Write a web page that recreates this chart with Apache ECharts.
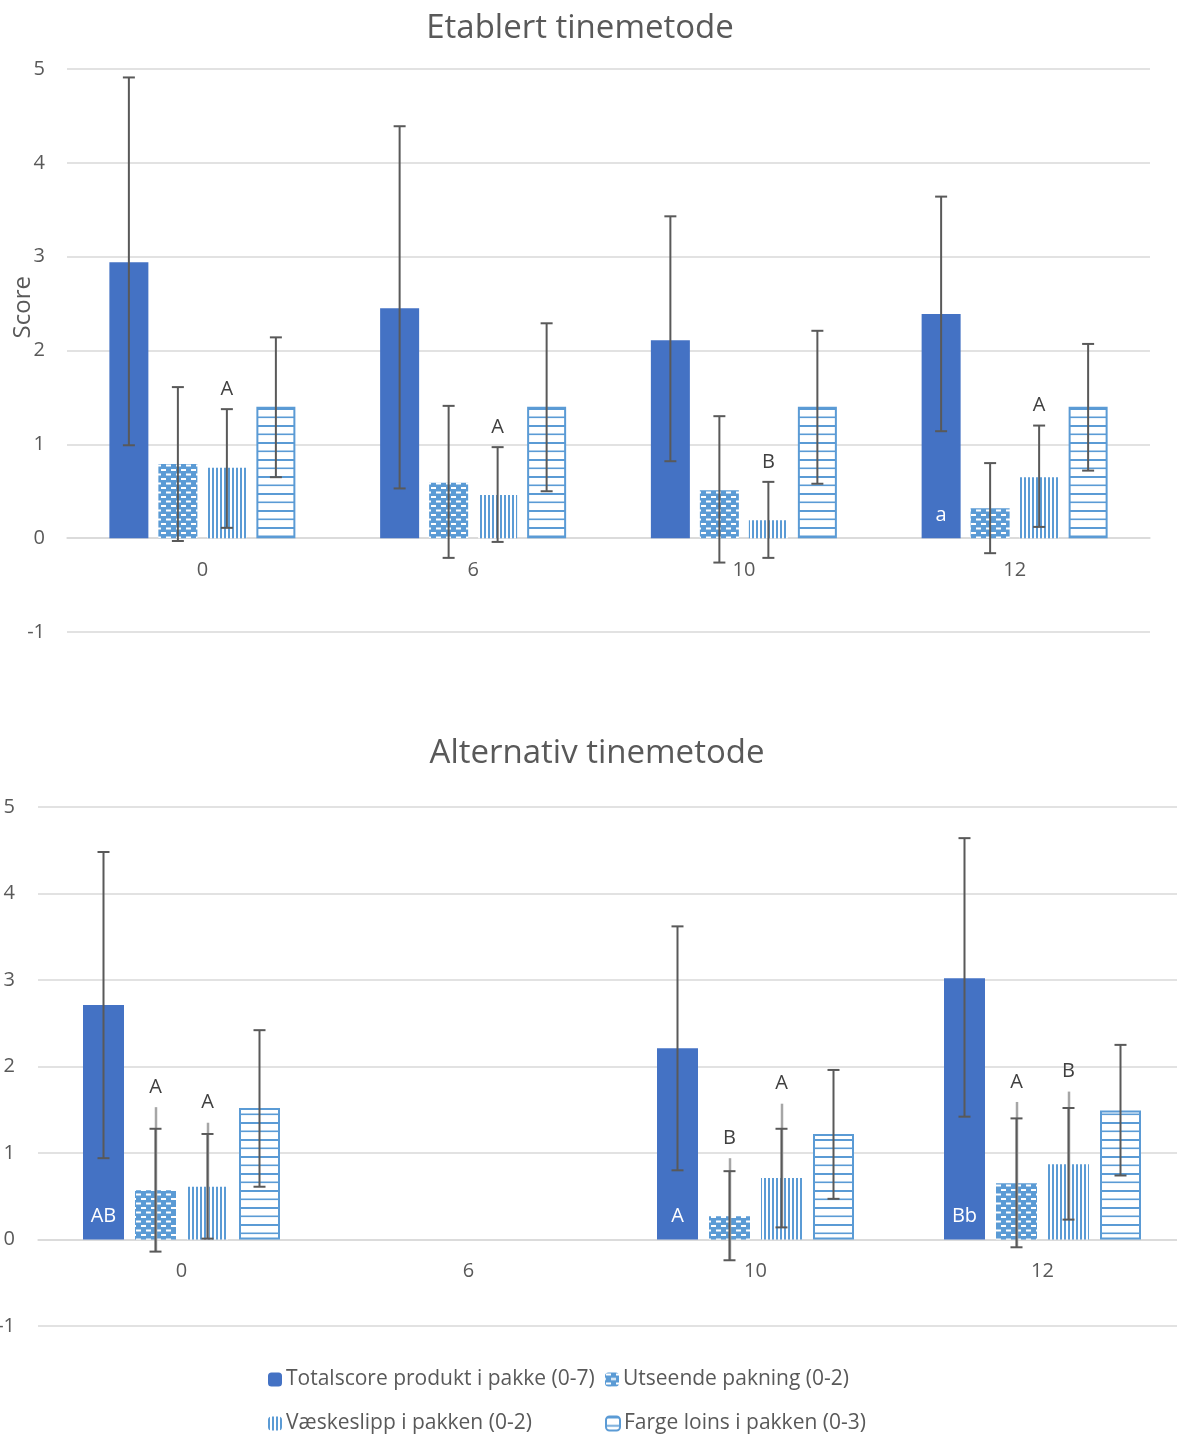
<!DOCTYPE html>
<html>
<head>
<meta charset="utf-8">
<script src="https://cdn.jsdelivr.net/npm/echarts@6/dist/echarts.min.js"></script>
<style>html,body{margin:0;padding:0;background:#fff;}#c{width:1177px;height:1434px;}</style>
</head>
<body>
<div id="c"></div>
<script>
// ---------- DATA ----------
const categories = ['0', '6', '10', '12'];
const seriesNames = ['Totalscore produkt i pakke (0-7)', 'Utseende pakning (0-2)', 'Væskeslipp i pakken (0-2)', 'Farge loins i pakken (0-3)'];

// Top chart: Etablert tinemetode
const topTotal = [2.94, 2.45, 2.11, 2.39];
const topUtseende = [0.79, 0.59, 0.51, 0.32];
const topVaeske = [0.75, 0.46, 0.19, 0.65];
const topFarge = [1.40, 1.40, 1.40, 1.40];
const topTotalErr = [[0.99, 4.91], [0.53, 4.39], [0.82, 3.43], [1.14, 3.64]];
const topUtseendeErr = [[-0.03, 1.61], [-0.21, 1.41], [-0.26, 1.30], [-0.16, 0.80]];
const topVaeskeErr = [[0.11, 1.375], [-0.04, 0.97], [-0.21, 0.60], [0.12, 1.20]];
const topFargeErr = [[0.65, 2.14], [0.50, 2.29], [0.58, 2.21], [0.72, 2.07]];
const topTotalInner = ['', '', '', 'a'];
const topVaeskeLetters = ['A', 'A', 'B', 'A'];

// Bottom chart: Alternativ tinemetode
const botTotal = [2.71, null, 2.21, 3.02];
const botUtseende = [0.57, null, 0.27, 0.65];
const botVaeske = [0.61, null, 0.71, 0.87];
const botFarge = [1.52, null, 1.22, 1.49];
const botTotalErr = [[0.94, 4.48], null, [0.80, 3.62], [1.42, 4.64]];
const botUtseendeErr = [[-0.14, 1.28], null, [-0.24, 0.79], [-0.09, 1.40]];
const botVaeskeErr = [[0.01, 1.22], null, [0.14, 1.28], [0.23, 1.52]];
const botFargeErr = [[0.61, 2.42], null, [0.47, 1.96], [0.74, 2.25]];
const botUtseendeLightTop = [1.53, null, 0.94, 1.59];
const botVaeskeLightTop = [1.35, null, 1.57, 1.71];
const botTotalInner = ['AB', '', 'A', 'Bb'];
const botUtseendeLetters = ['A', '', 'B', 'A'];
const botVaeskeLetters = ['A', '', 'A', 'B'];

const yTicks = [-1, 0, 1, 2, 3, 4, 5];

// ---------- STYLE ----------
const DARK = '#4472C4', BLUE = '#5B9BD5', TXT = '#595959', GRIDC = '#d9d9d9';
const FONT = '"Open Sans", "Noto Sans", sans-serif';

function makePattern(w, h, draw) {
  const c = document.createElement('canvas');
  c.width = w; c.height = h;
  const ctx = c.getContext('2d');
  draw(ctx);
  return { image: c, repeat: 'repeat' };
}
const patUtseende = makePattern(10, 9, ctx => {
  ctx.fillStyle = BLUE; ctx.fillRect(0, 0, 10, 9);
  ctx.fillStyle = '#fff';
  ctx.fillRect(1, 1, 5, 2);
  ctx.fillRect(6, 5.5, 4, 2); ctx.fillRect(0, 5.5, 1, 2);
});
const patVaeske = makePattern(4, 4, ctx => {
  ctx.fillStyle = '#fff'; ctx.fillRect(0, 0, 4, 4);
  ctx.fillStyle = BLUE; ctx.fillRect(0, 0, 2, 4);
});
const patFarge = makePattern(4, 17, ctx => {
  ctx.fillStyle = '#fff'; ctx.fillRect(0, 0, 4, 17);
  ctx.fillStyle = BLUE; ctx.fillRect(0, 0, 4, 2); ctx.fillRect(0, 8.5, 4, 1.6);
});

const grids = [
  { left: 67, right: 27, top: 69, height: 563, barW: 39, gap: 10, yLabelMargin: 22 },
  { left: 38, width: 1148, top: 807, height: 519, barW: 41, gap: 11, yLabelMargin: 23 }
];
function slotOffset(gi, slot) {
  const L = grids[gi];
  const total = 4 * L.barW + 3 * L.gap;
  return -total / 2 + L.barW / 2 + slot * (L.barW + L.gap);
}

const styles = [
  { color: DARK },
  { color: patUtseende },
  { color: patVaeske },
  { color: patFarge, borderColor: BLUE, borderWidth: 2 }
];

function barSeries(gi, slot, values, inner) {
  const L = grids[gi];
  const s = {
    name: seriesNames[slot], type: 'bar', xAxisIndex: gi, yAxisIndex: gi,
    data: values.map(v => v == null ? '-' : v),
    barWidth: L.barW, barGap: (L.gap / L.barW * 100) + '%',
    itemStyle: styles[slot], z: 2
  };
  if (inner) {
    s.label = {
      show: true, position: 'insideBottom', distance: 13,
      color: '#fff', fontSize: 20, fontFamily: FONT,
      formatter: p => inner[p.dataIndex] || ''
    };
  }
  return s;
}

function errData(errs, slot, lightTops, letters) {
  const out = [];
  errs.forEach((e, i) => {
    if (!e) return;
    const lt = lightTops && lightTops[i] != null ? lightTops[i] : NaN;
    out.push({ value: [i, slot, e[0], e[1], lt], letter: letters ? letters[i] : '' });
  });
  return out;
}

function errSeries(gi, data) {
  return {
    type: 'custom', xAxisIndex: gi, yAxisIndex: gi, z: 5, silent: true,
    encode: { x: 0, y: [2, 3] },
    data: data,
    renderItem: function (params, api) {
      const idx = api.value(0), slot = api.value(1);
      const lo = api.value(2), hi = api.value(3), lt = api.value(4);
      const dx = slotOffset(gi, slot);
      const pLo = api.coord([idx, lo]), pHi = api.coord([idx, hi]);
      const x = pLo[0] + dx;
      const children = [];
      let topY = pHi[1];
      if (!isNaN(lt)) {
        const pLt = api.coord([idx, lt]);
        topY = Math.min(topY, pLt[1]);
        children.push({ type: 'line', shape: { x1: x + 0.5, y1: pLt[1], x2: x + 0.5, y2: pLo[1] }, style: { stroke: '#a6a6a6', lineWidth: 2.5 } });
      }
      const cap = 6;
      children.push({ type: 'line', shape: { x1: x, y1: pHi[1], x2: x, y2: pLo[1] }, style: { stroke: '#595959', lineWidth: 2 } });
      children.push({ type: 'line', shape: { x1: x - cap, y1: pHi[1], x2: x + cap, y2: pHi[1] }, style: { stroke: '#595959', lineWidth: 2 } });
      children.push({ type: 'line', shape: { x1: x - cap, y1: pLo[1], x2: x + cap, y2: pLo[1] }, style: { stroke: '#595959', lineWidth: 2 } });
      const letter = data[params.dataIndex].letter;
      if (letter) {
        children.push({ type: 'text', x: x, y: topY - 20, style: { text: letter, fill: '#404040', fontSize: 20, fontFamily: FONT, align: 'center', verticalAlign: 'middle' } });
      }
      return { type: 'group', children: children };
    }
  };
}

const topErrData = [].concat(
  errData(topTotalErr, 0), errData(topUtseendeErr, 1),
  errData(topVaeskeErr, 2, null, topVaeskeLetters), errData(topFargeErr, 3));
const botErrData = [].concat(
  errData(botTotalErr, 0), errData(botUtseendeErr, 1, botUtseendeLightTop, botUtseendeLetters),
  errData(botVaeskeErr, 2, botVaeskeLightTop, botVaeskeLetters), errData(botFargeErr, 3));

function xAxis(gi) {
  const g = grids[gi];
  const unitPx = g.height / (yTicks[yTicks.length - 1] - yTicks[0]);
  const zeroOffset = -(0 - yTicks[0]) * unitPx; // lift axis from bottom to value 0
  return {
    type: 'category', gridIndex: gi, data: categories, position: 'bottom',
    offset: zeroOffset,
    axisLine: { onZero: false, lineStyle: { color: GRIDC, width: 1.5 } },
    axisTick: { show: false },
    axisLabel: { color: TXT, fontSize: 20, fontFamily: FONT, margin: 22 }
  };
}
function yAxis(gi) {
  return {
    type: 'value', gridIndex: gi, min: yTicks[0], max: yTicks[yTicks.length - 1], interval: 1,
    axisLine: { show: false }, axisTick: { show: false },
    splitLine: { lineStyle: { color: GRIDC, width: 1.5 } },
    axisLabel: { color: TXT, fontSize: 20, fontFamily: FONT, margin: grids[gi].yLabelMargin }
  };
}

function legendAt(name, left, top) {
  return {
    data: [name], left: left, top: top, itemWidth: 14, itemHeight: 14, itemGap: 6, padding: 0,
    textStyle: { color: TXT, fontSize: 21, fontFamily: FONT, padding: [0, 0, 0, -1] }
  };
}

const chart = echarts.init(document.getElementById('c'), null, { renderer: 'canvas' });
chart.setOption({
  animation: false,
  backgroundColor: '#fff',
  title: [
    { text: 'Etablert tinemetode', left: 575, top: 7, textAlign: 'center', textStyle: { color: TXT, fontSize: 33, fontWeight: 'normal', fontFamily: FONT } },
    { text: 'Alternativ tinemetode', left: 592, top: 732, textAlign: 'center', textStyle: { color: TXT, fontSize: 33, fontWeight: 'normal', fontFamily: FONT } }
  ],
  grid: grids.map(g => {
    const o = { left: g.left, top: g.top, height: g.height, containLabel: false, outerBoundsMode: 'none' };
    if (g.right != null) o.right = g.right; else o.width = g.width;
    return o;
  }),
  xAxis: [xAxis(0), xAxis(1)],
  yAxis: [yAxis(0), yAxis(1)],
  legend: [
    legendAt(seriesNames[0], 268, 1369),
    legendAt(seriesNames[1], 605, 1369),
    legendAt(seriesNames[2], 268, 1413),
    legendAt(seriesNames[3], 605, 1413)
  ],
  graphic: [
    { type: 'text', left: 11, top: 276, rotation: Math.PI / 2, style: { text: 'Score', fill: TXT, fontSize: 24, fontFamily: FONT } }
  ],
  series: [
    barSeries(0, 0, topTotal, topTotalInner),
    barSeries(0, 1, topUtseende),
    barSeries(0, 2, topVaeske),
    barSeries(0, 3, topFarge),
    errSeries(0, topErrData),
    barSeries(1, 0, botTotal, botTotalInner),
    barSeries(1, 1, botUtseende),
    barSeries(1, 2, botVaeske),
    barSeries(1, 3, botFarge),
    errSeries(1, botErrData)
  ]
});
</script>
</body>
</html>
